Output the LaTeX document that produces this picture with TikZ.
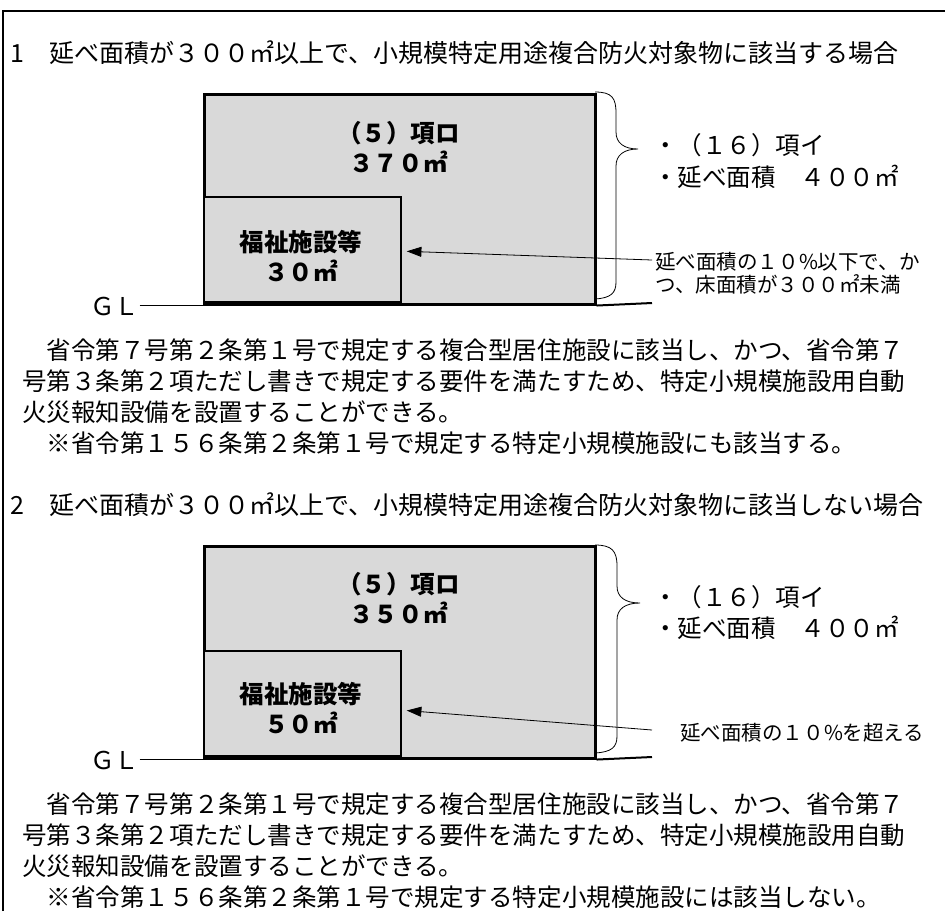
\documentclass[tikz,border=0pt]{standalone}
\usepackage{fontspec}
\setmainfont{Noto Sans CJK JP}
\usetikzlibrary{arrows.meta,calc}
\definecolor{bgray}{RGB}{217,217,217}
\begin{document}
\begin{tikzpicture}[x=0.75pt,y=-0.75pt,
  txt/.style={inner sep=0pt, anchor=west, font=\fontsize{18.4pt}{22pt}\selectfont},
  head/.style={inner sep=0pt, anchor=west, font=\fontsize{18.75pt}{22pt}\selectfont},
  lbl/.style={inner sep=0pt, align=center, font=\bfseries\fontsize{18.4pt}{22.5pt}\selectfont},
  note/.style={inner sep=0pt, anchor=west, font=\fontsize{15.4pt}{18pt}\selectfont},
  outerbox/.style={draw, line width=1.9pt, fill=bgray, anchor=north west, inner sep=0pt,
     minimum width=293.25pt, minimum height=157.5pt},
  innerbox/.style={draw, line width=1.3pt, fill=bgray, anchor=south west, inner sep=0pt,
     minimum width=147.75pt, minimum height=78.75pt},
  brace/.style={line width=0.6pt},
  ptr/.style={line width=0.6pt, -{Triangle[length=11pt,width=7.5pt]}, shorten >=3.75pt},
  gl/.style={line width=0.75pt},
  frame/.style={line width=1pt}]
\useasboundingbox (0,0) rectangle (945,911);
% frame
\draw[frame] (3,911) -- (3,11) -- (945,11);

% ---------------- section 1 ----------------
\node[head] (h1) at (10,53) {1　延べ面積が３００㎡以上で、小規模特定用途複合防火対象物に該当する場合};

\node[outerbox] (o1) at (203,93) {};
\node[innerbox] (i1) at (203,303) {};
\node[lbl] (l1) at (398.5,147) {（５）項ロ\\３７０㎡};
\node[lbl] (k1) at (301,256) {福祉施設等\\３０㎡};

\node[txt] (gl1) at (90,306) {ＧＬ};
\draw[gl] (gl1.east |- o1.south) -- (o1.south west);
\coordinate (glr1) at (652,303);
\draw[line width=1.5pt] (o1.south east) -- (glr1);

\draw[brace] (595,92) .. controls (612,92) and (616,98) .. (616,113)
  -- (616,132) .. controls (616,143) and (624,149) .. (638,149)
  .. controls (624,149) and (616,155) .. (616,166)
  -- (616,282) .. controls (616,293) and (611,298) .. (595,299);

\node[txt] (s1a) at (653,145) {・（１６）項イ};
\node[txt] (s1b) at (653,177) {・延べ面積　４００㎡};

\node[note] (n1a) at (655,262) {延べ面積の１０\%以下で、か};
\node[note] (n1b) at (655,284) {つ、床面積が３００㎡未満};
\draw[ptr] ($(n1a.west)+(-3,-2)$) -- ($(i1.east)+(0,1.5)$);

\node[txt] (p1a) at (22,350) {　省令第７号第２条第１号で規定する複合型居住施設に該当し、かつ、省令第７};
\node[txt] (p1b) at (22,381) {号第３条第２項ただし書きで規定する要件を満たすため、特定小規模施設用自動};
\node[txt] (p1c) at (22,412) {火災報知設備を設置することができる。};
\node[txt] (p1d) at (22,443) {　※省令第１５６条第２条第１号で規定する特定小規模施設にも該当する。};

% ---------------- section 2 ----------------
\node[head] (h2) at (10,505) {2　延べ面積が３００㎡以上で、小規模特定用途複合防火対象物に該当しない場合};

\node[outerbox, minimum height=159pt] (o2) at (203,545) {};
\node[innerbox] (i2) at (203,757) {};
\node[lbl] (l2) at (398.5,598) {（５）項ロ\\３５０㎡};
\node[lbl] (k2) at (301,708) {福祉施設等\\５０㎡};

\node[txt] (gl2) at (90,760) {ＧＬ};
\draw[gl] (gl2.east |- o2.south) -- (o2.south west);
\coordinate (glr2) at (652,757);
\draw[line width=1.5pt] (o2.south east) -- (glr2);

\draw[brace] (595,545) .. controls (612,545) and (617,551) .. (617,566)
  -- (617,586) .. controls (617,597) and (625,603) .. (640,603)
  .. controls (625,603) and (617,609) .. (617,620)
  -- (617,736) .. controls (617,747) and (612,752) .. (595,753);

\node[txt] (s2a) at (653,597) {・（１６）項イ};
\node[txt] (s2b) at (653,628) {・延べ面積　４００㎡};

\node[note] (n2a) at (680,733) {延べ面積の１０\%を超える};
\draw[ptr] ($(n2a.west)+(-28,-3)$) -- ($(i2.east)+(0,6.5)$);

\node[txt] (p2a) at (22,804) {　省令第７号第２条第１号で規定する複合型居住施設に該当し、かつ、省令第７};
\node[txt] (p2b) at (22,835) {号第３条第２項ただし書きで規定する要件を満たすため、特定小規模施設用自動};
\node[txt] (p2c) at (22,866) {火災報知設備を設置することができる。};
\node[txt] (p2d) at (22,897) {　※省令第１５６条第２条第１号で規定する特定小規模施設には該当しない。};
\end{tikzpicture}
\end{document}
